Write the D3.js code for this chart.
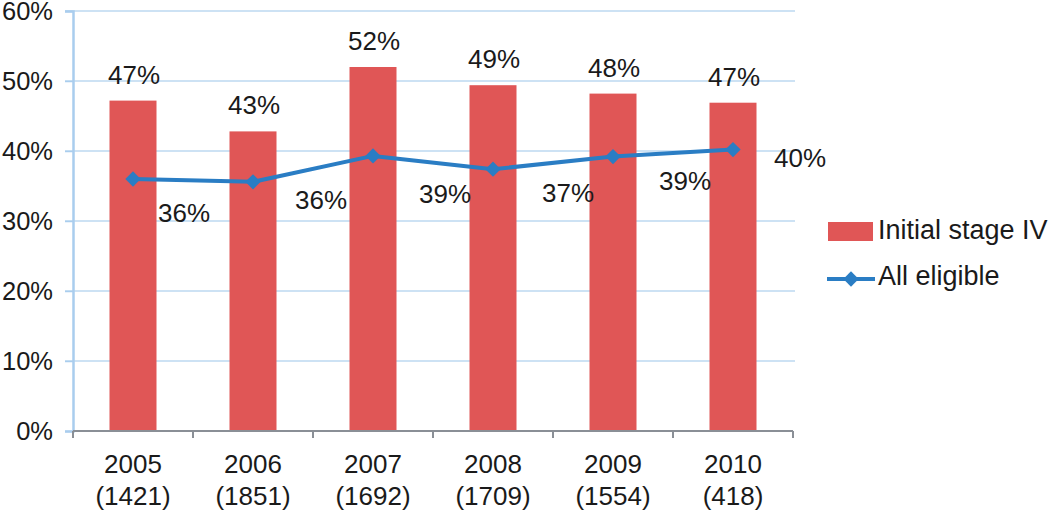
<!DOCTYPE html>
<html><head><meta charset="utf-8">
<script src="https://cdn.jsdelivr.net/npm/d3@7"></script>
<style>body{margin:0;background:#fff}text{font-family:"Liberation Sans",Arial,sans-serif;fill:#1a1a1a}</style>
</head><body><svg id="c" width="1050" height="513"></svg>
<script>
const years = ["2005","2006","2007","2008","2009","2010"];
const counts = ["(1421)","(1851)","(1692)","(1709)","(1554)","(418)"];
const stageIV = [47.2, 42.8, 52.0, 49.4, 48.2, 46.9];
const stageIVLabels = ["47%","43%","52%","49%","48%","47%"];
const allEligible = [36.0, 35.6, 39.3, 37.4, 39.2, 40.2];
const allEligibleLabels = ["36%","36%","39%","37%","39%","40%"];
const yTicks = [0,10,20,30,40,50,60];

const svg = d3.select("#c");
const L=73, R=793, T=11, B=431;
const x = d3.scaleBand().domain(years).range([L,R]);
const y = d3.scaleLinear().domain([0,60]).range([B,T]);
const fs = 25.5;

// gridlines
svg.append("g").selectAll("line").data(yTicks.filter(d=>d>0)).join("line")
  .attr("x1",65).attr("x2",R+2).attr("y1",d=>y(d)).attr("y2",d=>y(d))
  .attr("stroke","#bcd8f0").attr("stroke-width",1.5);
// y axis
const yAxis = d3.axisLeft(y).tickValues(yTicks).tickFormat(d=>d+"%").tickSize(8).tickPadding(12);
const gy = svg.append("g").attr("transform",`translate(${L},0)`).call(yAxis);
gy.select(".domain").attr("stroke","#a9cdee").attr("stroke-width",2.5);
gy.selectAll(".tick line").attr("stroke","#a9cdee").attr("stroke-width",1.5);
gy.selectAll(".tick text").attr("font-size",fs).attr("fill","#1a1a1a");

// bars
const bw = 47;
svg.append("g").selectAll("rect").data(stageIV).join("rect")
  .attr("x",(d,i)=>x(years[i])+x.bandwidth()/2-bw/2).attr("width",bw)
  .attr("y",d=>y(d)).attr("height",d=>B-y(d)).attr("fill","#e05656");

// x axis
const gx = svg.append("g").attr("transform",`translate(0,${B})`);
gx.append("line").attr("x1",L).attr("x2",R).attr("stroke","#8a8f96").attr("stroke-width",2);
gx.selectAll(".tk").data(d3.range(years.length+1)).join("line")
  .attr("x1",i=>L+i*x.bandwidth()).attr("x2",i=>L+i*x.bandwidth())
  .attr("y1",0).attr("y2",7).attr("stroke","#8a8f96").attr("stroke-width",2);
gx.selectAll(".yr").data(years).join("text")
  .attr("x",d=>x(d)+x.bandwidth()/2).attr("y",42).attr("text-anchor","middle").attr("font-size",26).text(d=>d);
gx.selectAll(".ct").data(counts).join("text")
  .attr("x",(d,i)=>x(years[i])+x.bandwidth()/2).attr("y",74).attr("text-anchor","middle").attr("font-size",26).text(d=>d);

// bar labels
svg.append("g").selectAll("text").data(stageIV).join("text")
  .attr("x",(d,i)=>x(years[i])+x.bandwidth()/2+1).attr("y",d=>y(d)-17)
  .attr("text-anchor","middle").attr("font-size",26).text((d,i)=>stageIVLabels[i]);

// line
const cx = i=>x(years[i])+x.bandwidth()/2;
const line = d3.line().x((d,i)=>cx(i)).y(d=>y(d));
svg.append("path").datum(allEligible).attr("d",line).attr("fill","none")
  .attr("stroke","#2a7dc4").attr("stroke-width",4).attr("stroke-linejoin","round");
const diamond = d3.symbol().type(d3.symbolDiamond2).size(150);
svg.append("g").selectAll("path").data(allEligible).join("path")
  .attr("d",diamond).attr("transform",(d,i)=>`translate(${cx(i)},${y(d)})`).attr("fill","#2a7dc4");

// line labels (offsets from points)
const ldx = [51,68,72,75,72,67], ldy=[34,18,38,24,24,8];
svg.append("g").selectAll("text").data(allEligible).join("text")
  .attr("x",(d,i)=>cx(i)+ldx[i]).attr("y",(d,i)=>y(d)+ldy[i]+9)
  .attr("text-anchor","middle").attr("font-size",26).text((d,i)=>allEligibleLabels[i]);

// legend
const lg = svg.append("g");
lg.append("rect").attr("x",828).attr("y",222).attr("width",45).attr("height",19).attr("fill","#e05656");
lg.append("text").attr("x",878).attr("y",239).attr("font-size",27).text("Initial stage IV");
lg.append("line").attr("x1",827).attr("x2",875).attr("y1",279).attr("y2",279).attr("stroke","#2a7dc4").attr("stroke-width",4);
lg.append("path").attr("d",diamond).attr("transform","translate(851,279)").attr("fill","#2a7dc4");
lg.append("text").attr("x",878).attr("y",285).attr("font-size",27).text("All eligible");
</script></body></html>
